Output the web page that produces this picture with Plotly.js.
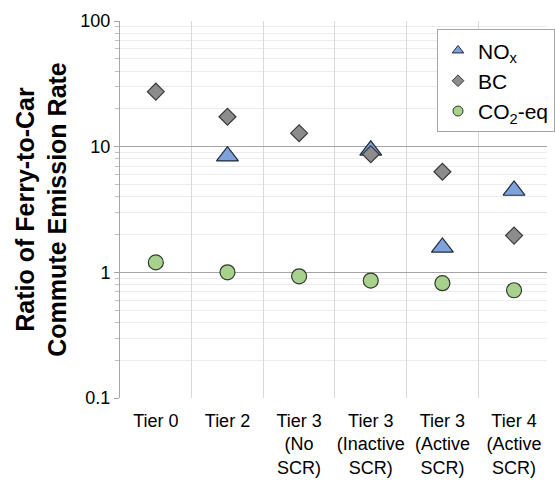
<!DOCTYPE html>
<html>
<head>
<meta charset="utf-8">
<script src="https://cdn.plot.ly/plotly-3.0.1.min.js"></script>
<style>html,body{margin:0;padding:0;background:#fff;}#chart{width:555px;height:481px;}</style>
</head>
<body>
<div id="chart"></div>
<script>
var categories = ["Tier 0", "Tier 2", "Tier 3<br>(No<br>SCR)", "Tier 3<br>(Inactive<br>SCR)", "Tier 3<br>(Active<br>SCR)", "Tier 4<br>(Active<br>SCR)"];
var noxValues = [null, 8.4, null, 9.36, 1.58, 4.48];
var bcValues = [27.4, 17.3, 12.8, 8.7, 6.32, 1.96];
var co2Values = [1.20, 1.00, 0.93, 0.86, 0.82, 0.72];
var seriesNames = ["NO<sub>x</sub>", "BC", "CO<sub>2</sub>-eq"];

var FONT = "Liberation Sans, Arial, sans-serif";
var styles = [
  {symbol: "triangle-up", size: 19, color: "#7fa2da", line: {color: "#1f2a3a", width: 1.2}},
  {symbol: "diamond", size: 13, color: "#8c8c8c", line: {color: "#3a3a3a", width: 1.2}},
  {symbol: "circle", size: 15, color: "#a9d18e", line: {color: "#2f3a2a", width: 1.2}}
];
var legendSizes = [10, 9, 10];
var allValues = [noxValues, bcValues, co2Values];

var traces = [];
allValues.forEach(function (vals, i) {
  traces.push({
    type: "scatter", mode: "markers", x: categories, y: vals,
    showlegend: false, hoverinfo: "skip",
    marker: {symbol: styles[i].symbol, size: styles[i].size, color: styles[i].color, line: styles[i].line}
  });
});
allValues.forEach(function (vals, i) {
  traces.push({
    type: "scatter", mode: "markers", x: [null], y: [null], name: seriesNames[i],
    showlegend: true,
    marker: {symbol: styles[i].symbol, size: legendSizes[i], color: styles[i].color, line: {color: styles[i].line.color, width: 1}}
  });
});

var layout = {
  width: 555, height: 481,
  margin: {l: 120, r: 0, t: 21, b: 82.5},
  paper_bgcolor: "#ffffff", plot_bgcolor: "#ffffff",
  font: {family: FONT, size: 18, color: "#000"},
  showlegend: true,
  legend: {
    x: 0.7425, y: 0.978, xanchor: "left", yanchor: "top",
    bgcolor: "#ffffff", bordercolor: "#a6a6a6", borderwidth: 1,
    font: {family: FONT, size: 21, color: "#000"},
    itemwidth: 30, tracegroupgap: 0
  },
  xaxis: {
    type: "category", categoryorder: "array", categoryarray: categories,
    range: [-0.5, 5.46], tickson: "boundaries", ticks: "", tickangle: 0,
    showgrid: true, gridcolor: "#d9d9d9", gridwidth: 1,
    showline: false, zeroline: false,
    tickfont: {family: FONT, size: 18, color: "#000"},
    ticklabelstandoff: 10, fixedrange: true
  },
  yaxis: {
    type: "log", range: [-1, 2], dtick: 1,
    showgrid: true, gridcolor: "#a6a6a6", gridwidth: 1,
    showline: true, linecolor: "#a6a6a6", linewidth: 1,
    ticks: "outside", ticklen: 5, tickcolor: "#a6a6a6",
    minor: {dtick: "D1", ticks: "outside", ticklen: 4, tickcolor: "#bfbfbf", showgrid: true, gridcolor: "#ececec", gridwidth: 1},
    zeroline: false,
    tickfont: {family: FONT, size: 18, color: "#000"},
    title: {text: "<b>Ratio of Ferry-to-Car<br>Commute Emission Rate</b>", font: {family: FONT, size: 25, color: "#000"}, standoff: 6},
    automargin: false, fixedrange: true
  }
};

Plotly.newPlot("chart", traces, layout, {displayModeBar: false, staticPlot: true});
</script>
</body>
</html>
